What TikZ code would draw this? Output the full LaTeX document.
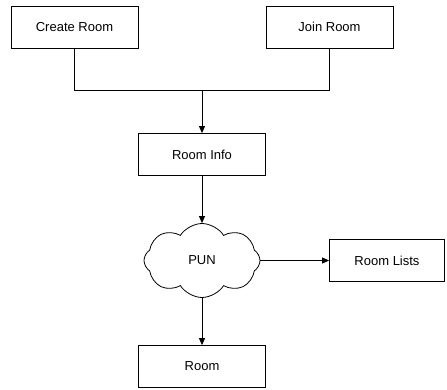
\documentclass[tikz,border=0pt]{standalone}
\usepackage{fontspec}
\setmainfont{Liberation Sans}
\usetikzlibrary{shapes.symbols,arrows.meta}

\begin{document}
\begin{tikzpicture}[x=1pt,y=-1pt,-,>={Triangle[length=7pt,width=6pt]},auto,node distance=106pt,line width=0.8pt,box node/.style={rectangle,draw,minimum width=127pt,minimum height=42pt,font=\fontsize{13}{15}\selectfont},cloud node/.style={cloud,draw,cloud puffs=8,cloud puff arc=115,aspect=1.6,minimum width=116pt,minimum height=74pt,inner sep=0pt,font=\fontsize{13}{15}\selectfont}]

                \useasboundingbox (0,0) rectangle (447,389);

                \node[box node] (create) at (74.5,27) {Create Room};
                \node[box node] (join) at (329.5,27) {Join Room};
                \node[box node] (info) at (202,154.5) {Room Info};
                \node[cloud node] (pun) [below of = info] {PUN};
                \node[box node, minimum width=115pt] (lists) [right of = pun, node distance=185pt] {Room Lists};
                \node[box node] (room) [below of = pun] {Room};

                \coordinate (merge) at (202,90);

                \draw[-] (create) |- (merge);
                \draw[-] (join) |- (merge);
                \draw[->] (merge) to (info);
                \draw[->] (info) to (pun);
                \draw[->] (pun) to (lists);
                \draw[->] (pun) to (room);

                ;
            \end{tikzpicture}
\end{document}
